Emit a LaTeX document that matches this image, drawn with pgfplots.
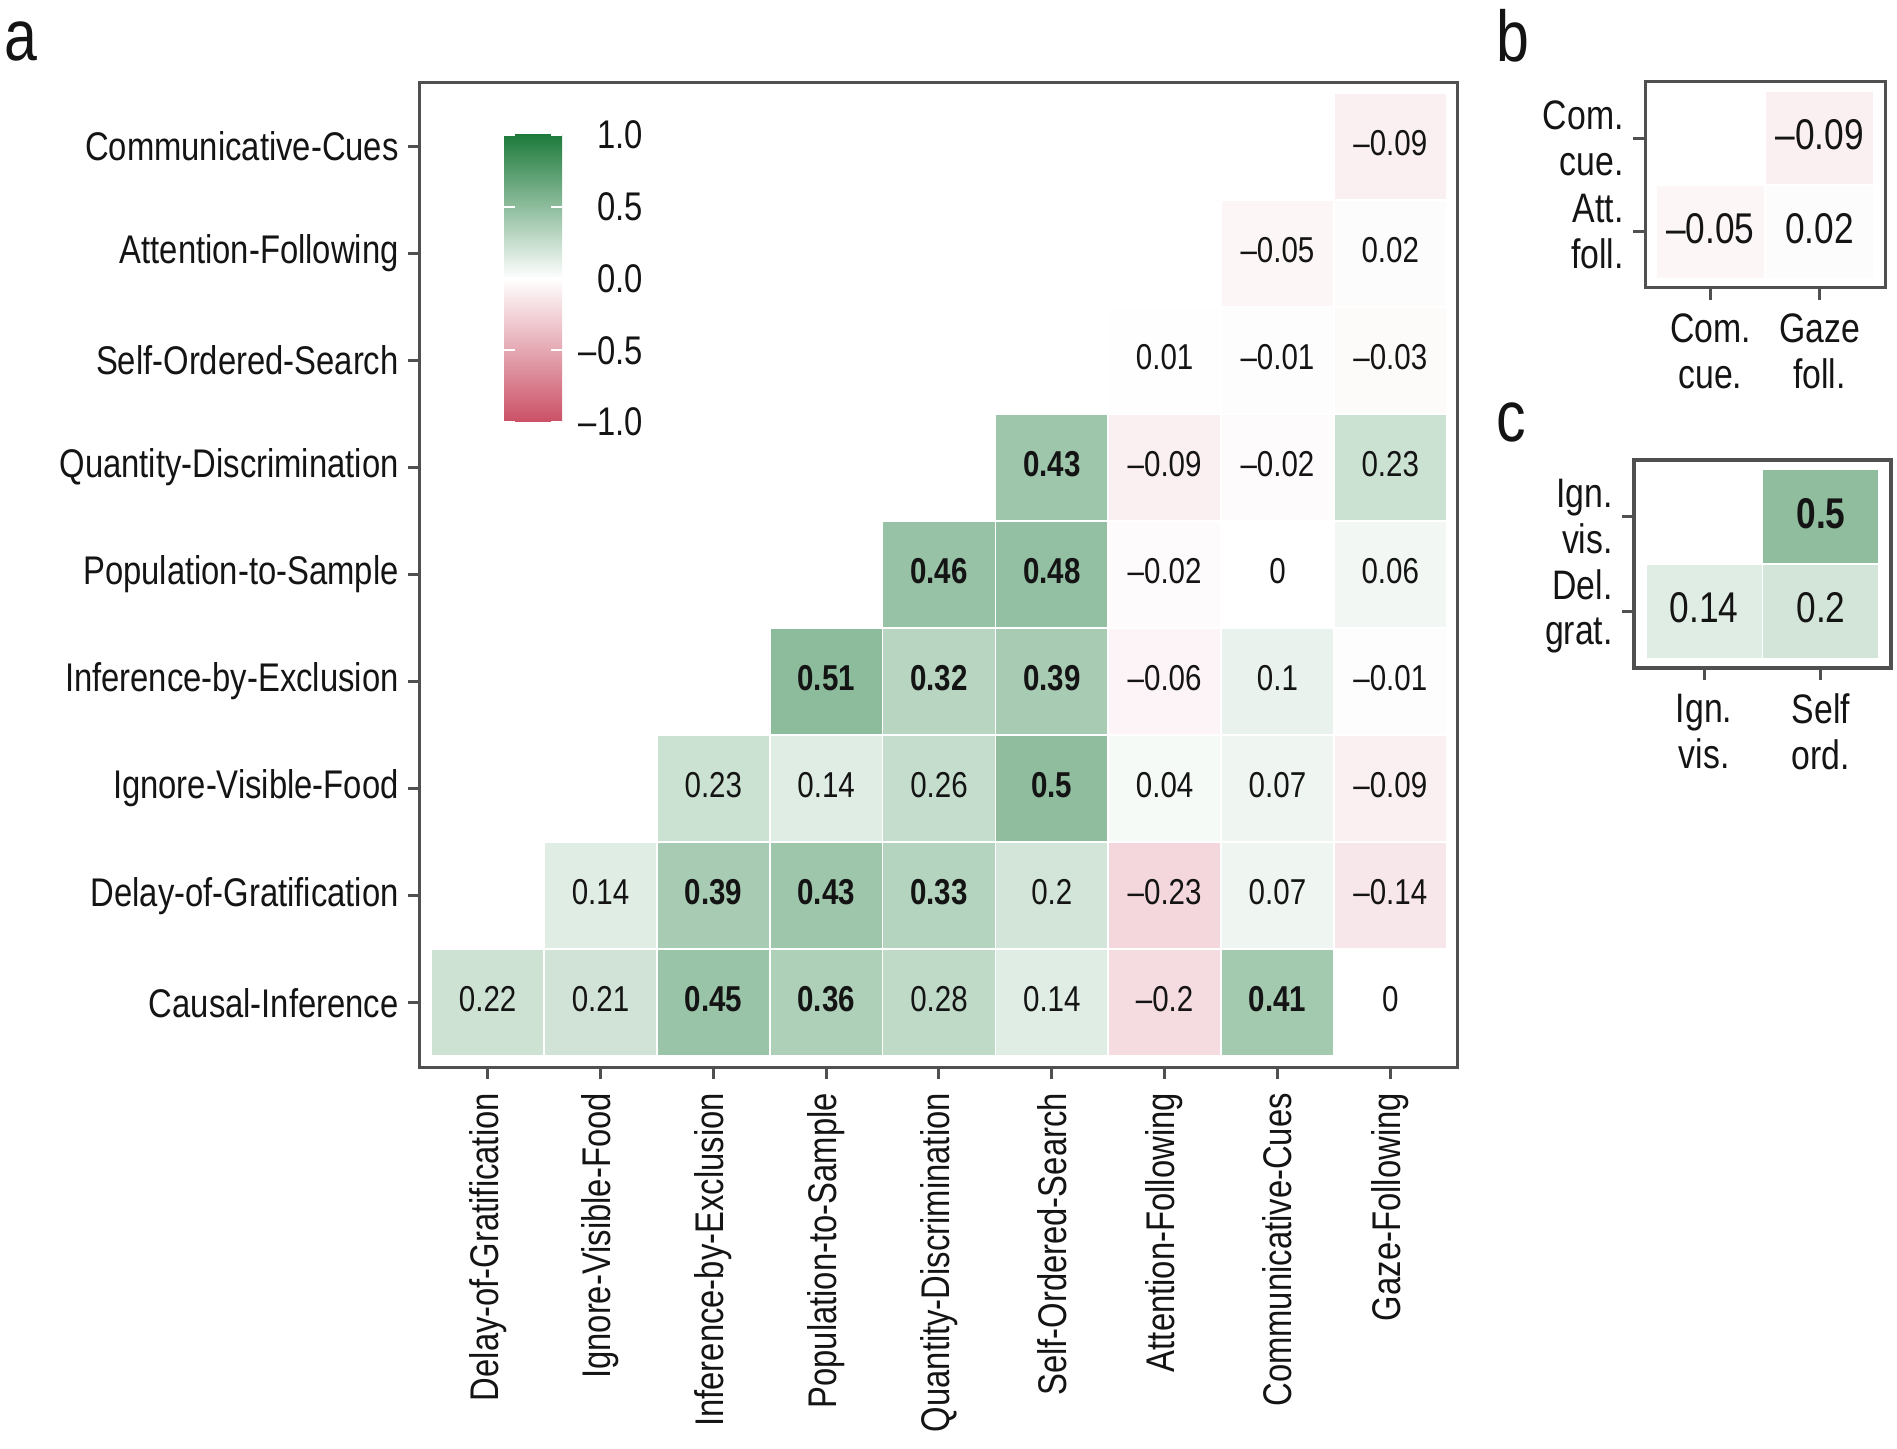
\documentclass[border=0pt]{standalone}
\usepackage{fontspec}
\setmainfont{Liberation Sans}[FakeStretch=0.82]
\usepackage{pgfplots}
\usepackage{pgfplotstable}
\pgfplotsset{compat=1.18}

\definecolor{framegray}{RGB}{80,80,80}
\definecolor{txt}{RGB}{20,20,20}
\definecolor{cbred}{RGB}{203,80,102}
\definecolor{cbgreen}{RGB}{30,123,60}
% an empty plot mark: tiles and values are drawn by the scatter code instead
\pgfdeclareplotmark{blank}{}

\pgfplotsset{
  colormap={corr}{rgb255=(203,80,102) rgb255=(255,255,255) rgb255=(30,123,60)},
  corrframe/.style={
    scale only axis,
    point meta min=-1, point meta max=1,
    xmin=0.4, ymin=0.4,
    enlargelimits=false,
    axis line style={draw=framegray, line width=0.75pt},
    tick style={draw=framegray, line width=0.75pt},
    major tick length=3pt,
    tick align=outside,
    tick pos=left,
    tick label style={font=\fontsize{#1}{11.4}\selectfont, text=txt},
    yticklabel style={xshift=1.2pt},
  },
  % coloured tiles, one unit wide and high, with white seams
  cells/.style={
    scatter, only marks, mark=blank,
    point meta=\thisrow{v},
    scatter/@pre marker code/.code={%
      \pgfplotscolormapdefinemappedcolor{\pgfplotspointmetatransformed}%
      \fill[mapped color, draw=white, line width=0.45pt]
        (axis direction cs:-0.5,-0.5) rectangle (axis direction cs:0.5,0.5);
    },
    scatter/@post marker code/.code={},
  },
  % the printed coefficient, centred in its tile
  celltext/.style={
    scatter, only marks, mark=blank,
    point meta=explicit symbolic,
    scatter/@pre marker code/.code={%
      \node[inner sep=0pt, text=txt, font=\fontsize{#1}{#1}\selectfont]
        at (0pt,0.8pt) {\pgfplotspointmeta};
    },
    scatter/@post marker code/.code={},
  },
}

\pgfplotstableread{
x y v lab
9 9 -0.09 –0.09
8 8 -0.05 –0.05
9 8 0.02 0.02
7 7 0.01 0.01
8 7 -0.01 –0.01
9 7 -0.03 –0.03
6 6 0.43 \textbf{0.43}
7 6 -0.09 –0.09
8 6 -0.02 –0.02
9 6 0.23 0.23
5 5 0.46 \textbf{0.46}
6 5 0.48 \textbf{0.48}
7 5 -0.02 –0.02
8 5 0 0
9 5 0.06 0.06
4 4 0.51 \textbf{0.51}
5 4 0.32 \textbf{0.32}
6 4 0.39 \textbf{0.39}
7 4 -0.06 –0.06
8 4 0.1 0.1
9 4 -0.01 –0.01
3 3 0.23 0.23
4 3 0.14 0.14
5 3 0.26 0.26
6 3 0.5 \textbf{0.5}
7 3 0.04 0.04
8 3 0.07 0.07
9 3 -0.09 –0.09
2 2 0.14 0.14
3 2 0.39 \textbf{0.39}
4 2 0.43 \textbf{0.43}
5 2 0.33 \textbf{0.33}
6 2 0.2 0.2
7 2 -0.23 –0.23
8 2 0.07 0.07
9 2 -0.14 –0.14
1 1 0.22 0.22
2 1 0.21 0.21
3 1 0.45 \textbf{0.45}
4 1 0.36 \textbf{0.36}
5 1 0.28 0.28
6 1 0.14 0.14
7 1 -0.2 –0.2
8 1 0.41 \textbf{0.41}
9 1 0 0
}\corrA

\pgfplotstableread{
x y v lab
2 2 -0.09 –0.09
1 1 -0.05 –0.05
2 1 0.02 0.02
}\corrB

\pgfplotstableread{
x y v lab
2 2 0.5 \textbf{0.5}
1 1 0.14 0.14
2 1 0.2 0.2
}\corrC

\begin{document}
\begin{tikzpicture}
\useasboundingbox (0,0) rectangle (474.25pt,362pt);

% ---- panel a: full lower-triangular matrix ----
\begin{axis}[corrframe=10,
  at={(105pt,95.25pt)}, anchor=south west,
  width=259.5pt, height=246.25pt,
  xmax=9.6, ymax=9.6,
  xtick={1,...,9}, ytick={1,...,9},
  xticklabels={Delay-of-Gratification, Ignore-Visible-Food, Inference-by-Exclusion,
    Population-to-Sample, Quantity-Discrimination, Self-Ordered-Search,
    Attention-Following, Communicative-Cues, Gaze-Following},
  yticklabels={Causal-Inference, Delay-of-Gratification, Ignore-Visible-Food,
    Inference-by-Exclusion, Population-to-Sample, Quantity-Discrimination,
    Self-Ordered-Search, Attention-Following, Communicative-Cues},
  xticklabel style={rotate=90, anchor=east},
]
\addplot[cells] table[x=x, y=y] {\corrA};
\addplot[celltext=9] table[x=x, y=y, meta=lab] {\corrA};
\end{axis}

% colour key inside panel a
\begin{axis}[
  at={(126pt,256.5pt)}, anchor=south west,
  scale only axis, width=14.5pt, height=71.75pt,
  xmin=0, xmax=1, ymin=-1, ymax=1,
  axis on top,
  axis line style={draw=none},
  xtick=\empty,
  ytick={-1,-0.5,0,0.5,1},
  yticklabels={–1.0,–0.5,0.0,0.5,1.0},
  ytick style={draw=white, line width=0.6pt},
  major tick length=2.8pt,
  tick align=inside,
  ytick pos=both,
  yticklabel pos=right,
  yticklabel style={font=\fontsize{10}{12}\selectfont, text=txt,
    text width=16.5pt, align=right, inner sep=3.5pt},
]
\fill[bottom color=cbred, top color=cbgreen, middle color=white]
  (axis cs:0,-1) rectangle (axis cs:1,1);
\end{axis}

% ---- panel b ----
\begin{axis}[corrframe=10.3,
  at={(411.25pt,290pt)}, anchor=south west,
  width=60pt, height=51.5pt,
  xmax=2.6, ymax=2.6,
  xtick={1,2}, ytick={1,2},
  xticklabels={{Com.\\cue.},{Gaze\\foll.}},
  yticklabels={{Att.\\foll.},{Com.\\cue.}},
  xticklabel style={align=center},
  yticklabel style={align=right},
]
\addplot[cells] table[x=x, y=y] {\corrB};
\addplot[celltext=10.75] table[x=x, y=y, meta=lab] {\corrB};
\end{axis}

% ---- panel c ----
\begin{axis}[corrframe=10.3,
  at={(408.5pt,195pt)}, anchor=south west,
  width=64.25pt, height=52pt,
  xmax=2.6, ymax=2.6,
  axis line style={line width=0.9pt},
  xtick={1,2}, ytick={1,2},
  xticklabels={{Ign.\\vis.},{Self\\ord.}},
  yticklabels={{Del.\\grat.},{Ign.\\vis.}},
  xticklabel style={align=center},
  yticklabel style={align=right},
]
\addplot[cells] table[x=x, y=y] {\corrC};
\addplot[celltext=10.75] table[x=x, y=y, meta=lab] {\corrC};
\end{axis}

% panel letters
\node[anchor=base west, inner sep=0pt, font=\fontsize{18}{20}\selectfont, text=txt] at (1pt,346.9pt) {a};
\node[anchor=base west, inner sep=0pt, font=\fontsize{18}{20}\selectfont, text=txt] at (374pt,346.5pt) {b};
\node[anchor=base west, inner sep=0pt, font=\fontsize{18}{20}\selectfont, text=txt] at (374pt,251.6pt) {c};
\end{tikzpicture}
\end{document}
